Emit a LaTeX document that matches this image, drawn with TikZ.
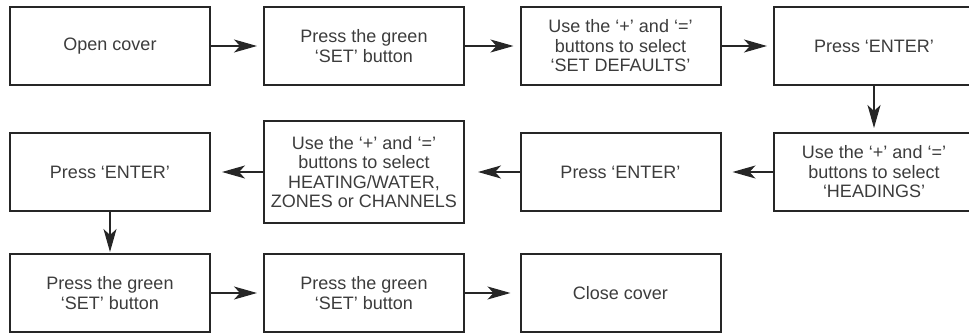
\documentclass[tikz,border=0pt]{standalone}
\usepackage{fontspec}
\setmainfont{Liberation Sans}
\usetikzlibrary{arrows.meta}

\definecolor{boxline}{HTML}{262626}
\definecolor{boxtext}{HTML}{3C3C3C}

\tikzset{
	stepbox/.style={draw=boxline, line width=2pt, minimum width=200pt, minimum height=78pt,
		inner sep=2pt, align=center, text=boxtext, font=\fontsize{18}{19.5}\selectfont},
	tallbox/.style={stepbox, minimum height=101pt},
	flow/.style={draw=boxline, line width=1.1pt, -{Stealth[length=23pt,width=13pt,inset=6pt]}}
}

\begin{document}
\begin{tikzpicture}[x=1pt,y=-1pt]
		\useasboundingbox (0,0) rectangle (969,334);
		
		% first row, left to right
		\node[stepbox] (open) at (110,46) {Open cover};
		\node[stepbox] (greenA) at (364,46) {Press the green\\‘SET’ button};
		\node[stepbox] (defaults) at (620.5,46) {Use the ‘+’ and ‘=’\\buttons to select\\‘SET DEFAULTS’};
		\node[stepbox] (enterA) at (874,46) {Press ‘ENTER’};
		
		% second row, right to left
		\node[stepbox] (headings) at (874,172) {Use the ‘+’ and ‘=’\\buttons to select\\‘HEADINGS’};
		\node[stepbox] (enterB) at (620.5,172) {Press ‘ENTER’};
		\node[tallbox] (heating) at (364,172) {Use the ‘+’ and ‘=’\\buttons to select\\HEATING/WATER,\\ZONES or CHANNELS};
		\node[stepbox] (enterC) at (110,172) {Press ‘ENTER’};
		
		% third row
		\node[stepbox] (greenB) at (110,293) {Press the green\\‘SET’ button};
		\node[stepbox] (greenC) at (364,293) {Press the green\\‘SET’ button};
		\node[stepbox] (close) at (620.5,293) {Close cover};
		
		\draw[flow, shorten >=6pt] (open) -- (greenA);
		\draw[flow, shorten >=6pt] (greenA) -- (defaults);
		\draw[flow, shorten >=6pt] (defaults) -- (enterA);
		\draw[flow, shorten >=4pt] (enterA) -- (headings);
		\draw[flow, shorten >=11pt] (headings) -- (enterB);
		\draw[flow, shorten >=13pt] (enterB) -- (heating);
		\draw[flow, shorten >=11pt] (heating) -- (enterC);
		\draw[flow, shorten >=1pt] (enterC) -- (greenB);
		\draw[flow, shorten >=6pt] (greenB) -- (greenC);
		\draw[flow, shorten >=9pt] (greenC) -- (close);
	\end{tikzpicture}
\end{document}
